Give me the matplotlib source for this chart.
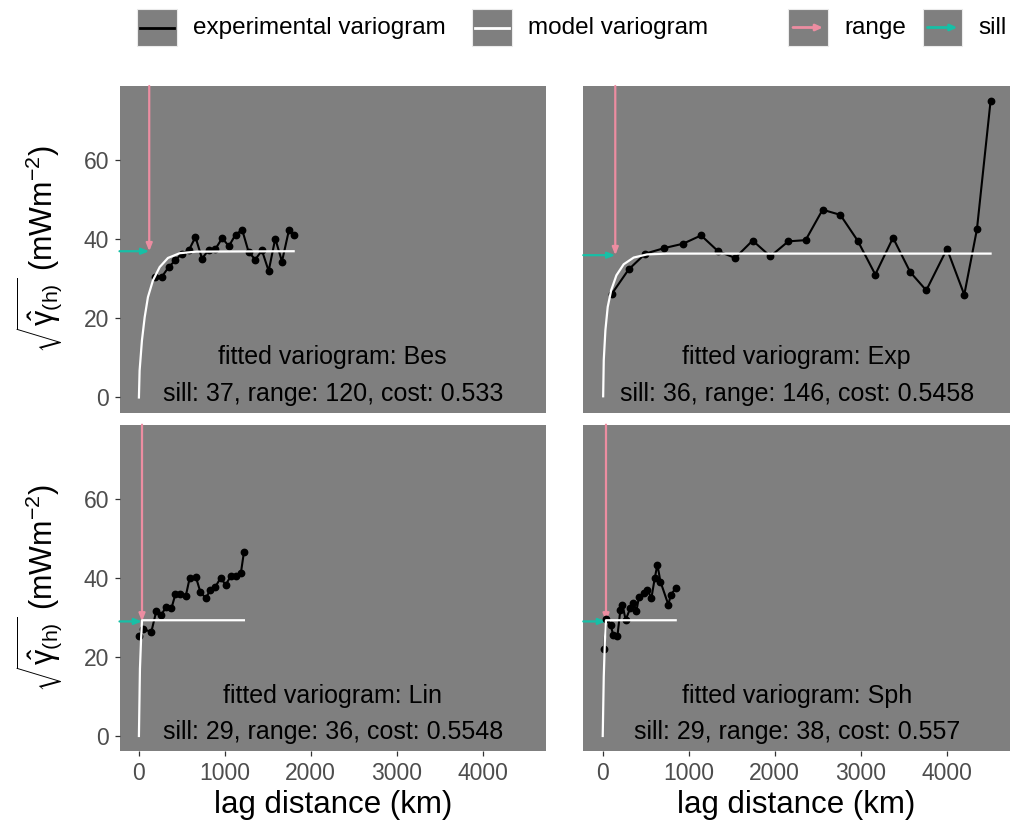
import matplotlib.pyplot as plt
from matplotlib.patches import Rectangle

plt.rcParams['font.family'] = ['Liberation Sans', 'DejaVu Sans']
plt.rcParams['mathtext.fontset'] = 'custom'
plt.rcParams['mathtext.rm'] = 'Liberation Sans'
plt.rcParams['mathtext.it'] = 'Liberation Sans:italic'
plt.rcParams['mathtext.bf'] = 'Liberation Sans:bold'

# fitted model summary
models = ['Bes', 'Exp', 'Lin', 'Sph']
sills = [37, 36, 29, 29]
ranges = [120, 146, 36, 38]
costs = ['0.533', '0.5458', '0.5548', '0.557']

# experimental variograms (lag km, sqrt semivariance)
bes_lag = [183, 269, 347, 425, 498, 580, 658, 735, 813, 891, 969, 1047, 1125, 1202,
           1277, 1354, 1432, 1510, 1587, 1665, 1747, 1801]
bes_gam = [30.6, 30.6, 33.0, 34.7, 36.4, 37.2, 40.6, 35.1, 37.4, 37.6, 40.3, 38.3, 41.2, 42.4,
           36.8, 34.9, 37.2, 32.0, 40.2, 34.4, 42.4, 41.2]
exp_lag = [105, 302, 497, 717, 935, 1144, 1342, 1540, 1744, 1950, 2159, 2360, 2558, 2764,
           2965, 3171, 3377, 3578, 3764, 4005, 4206, 4353, 4512]
exp_gam = [26.2, 32.4, 36.4, 37.8, 38.9, 41.0, 37.0, 35.3, 39.7, 35.7, 39.5, 39.8, 47.5, 46.2,
           39.7, 31.1, 40.4, 31.7, 27.1, 37.6, 26.0, 42.5, 75.0]
lin_lag = [0, 47, 145, 203, 261, 312, 378, 425, 483, 545, 592, 662, 716, 778, 833, 891,
           953, 1008, 1070, 1125, 1187, 1222]
lin_gam = [25.3, 27.0, 26.4, 31.7, 30.6, 32.6, 32.3, 35.9, 35.9, 35.4, 40.1, 40.3, 36.4, 34.9,
           37.0, 37.8, 40.1, 38.2, 40.5, 40.5, 41.3, 46.5]
sph_lag = [14, 43, 93, 121, 171, 205, 229, 267, 319, 353, 392, 423, 481, 520, 566, 605,
           636, 671, 764, 791, 849]
sph_gam = [21.9, 29.6, 28.1, 25.6, 25.3, 31.9, 33.2, 29.4, 32.3, 33.7, 31.7, 35.3, 36.1, 37.0,
           34.9, 39.9, 43.4, 39.1, 33.2, 35.7, 37.4]

# model variogram curves
bes_mx = [0, 8, 35, 67, 105, 163, 242, 338, 475, 670, 1801]
bes_my = [0, 6.8, 14.4, 20.3, 25.4, 29.6, 33.0, 35.3, 36.5, 36.9, 37.0]
exp_mx = [5, 12, 31, 58, 98, 159, 244, 360, 516, 749, 4512]
exp_my = [0.3, 9.4, 17.0, 22.9, 27.1, 30.9, 33.7, 35.4, 36.2, 36.4, 36.4]
lin_mx = [0, 12, 25, 36, 1222]
lin_my = [0, 17, 24.5, 29.3, 29.3]
sph_mx = [0, 12, 25, 38, 849]
sph_my = [0, 15, 24, 29.3, 29.3]

exp_x = [bes_lag, exp_lag, lin_lag, sph_lag]
exp_y = [bes_gam, exp_gam, lin_gam, sph_gam]
mod_x = [bes_mx, exp_mx, lin_mx, sph_mx]
mod_y = [bes_my, exp_my, lin_my, sph_my]

bg = '#7F7F7F'
pink = '#EC8DA1'
teal = '#17BFA6'
xlim = (-226, 4738)
ylim = (-3.8, 78.8)

W, H = 1013, 833
fig = plt.figure(figsize=(W / 100, H / 100), dpi=100)

# panel boxes in pixels: left, top, right, bottom
boxes = [(119.5, 86, 546, 412.5), (583.3, 86, 1010, 412.5),
         (119.5, 424.7, 546, 751), (583.3, 424.7, 1010, 751)]

for i, (l, t, r, b) in enumerate(boxes):
    ax = fig.add_axes([l / W, 1 - b / H, (r - l) / W, (b - t) / H])
    ax.set_facecolor(bg)
    for s in ax.spines.values():
        s.set_visible(False)
    ax.set_xlim(*xlim)
    ax.set_ylim(*ylim)

    ax.plot(exp_x[i], exp_y[i], color='black', lw=1.5, marker='o', ms=4.6, zorder=4)
    ax.plot(mod_x[i], mod_y[i], color='white', lw=1.6, zorder=5)

    arrow = '-|>,head_length=0.45,head_width=0.18'
    ax.annotate('', xy=(ranges[i], sills[i]), xytext=(ranges[i], ylim[1]),
                arrowprops=dict(arrowstyle=arrow, color=pink, lw=1.6,
                                shrinkA=0, shrinkB=0), zorder=2)
    ax.annotate('', xy=(ranges[i], sills[i]), xytext=(xlim[0], sills[i]),
                arrowprops=dict(arrowstyle=arrow, color=teal, lw=1.6,
                                shrinkA=0, shrinkB=0), zorder=2)

    ax.text(0.5, 0.17, 'fitted variogram: ' + models[i], transform=ax.transAxes,
            ha='center', va='center', fontsize=18)
    ax.text(0.5, 0.058, 'sill: %d, range: %d, cost: %s' % (sills[i], ranges[i], costs[i]),
            transform=ax.transAxes, ha='center', va='center', fontsize=18)

    ax.tick_params(colors='#333333', labelcolor='#4D4D4D', labelsize=16.5,
                   length=3.6, width=0.9, pad=4)
    if i % 2 == 0:
        ax.set_yticks([0, 20, 40, 60])
    else:
        ax.set_yticks([])
    if i >= 2:
        ax.set_xticks([0, 1000, 2000, 3000, 4000])
        ax.set_xlabel('lag distance (km)', fontsize=22.5, labelpad=4)
    else:
        ax.set_xticks([])

ylab = r'$\sqrt{\hat{\mathrm{\gamma}}_{\mathrm{(h)}}}$ (mWm$^{-2}$)'
for cy in [249, 588]:
    fig.text(40 / W, 1 - cy / H, ylab, rotation=90, ha='center', va='center', fontsize=22)

# legend drawn on an overlay axes in pixel coordinates
lg = fig.add_axes([0, 0, 1, 1])
lg.set_xlim(0, W)
lg.set_ylim(H, 0)
lg.axis('off')
keys = [(137, 'experimental variogram', 'line', 'black'),
        (472, 'model variogram', 'line', 'white'),
        (788, 'range', 'arrow', pink),
        (922.5, 'sill', 'arrow', teal)]
for kx, label, kind, col in keys:
    lg.add_patch(Rectangle((kx, 9), 39.5, 37, facecolor=bg, edgecolor='#EBEBEB', lw=0.8))
    if kind == 'line':
        lg.plot([kx + 3, kx + 36.5], [27.5, 27.5], color=col, lw=2)
    else:
        lg.annotate('', xy=(kx + 35, 27.5), xytext=(kx + 5, 27.5),
                    arrowprops=dict(arrowstyle='-|>,head_length=0.4,head_width=0.18',
                                    color=col, lw=2, shrinkA=0, shrinkB=0))
    lg.text(kx + 56, 28, label, ha='left', va='center', fontsize=17.5)

fig.savefig('out.png', dpi=100)
